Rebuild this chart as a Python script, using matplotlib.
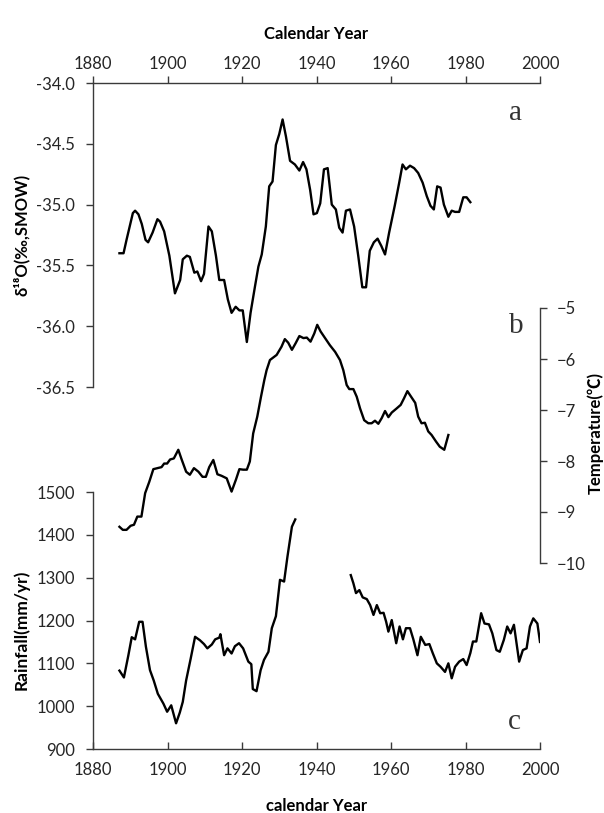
import numpy as np
import matplotlib
matplotlib.use("Agg")
import matplotlib.pyplot as plt

plt.rcParams['font.family'] = ['Lato', 'Noto Sans CJK SC', 'DejaVu Sans']

# ---------------- data ----------------
years_a = [1887.1, 1888.2, 1889.0, 1890.7, 1891.3, 1892.2, 1893.1, 1894.1, 1894.8, 1896.0,
           1897.3, 1898.0, 1899.1, 1900.5, 1902.0, 1903.4, 1904.1, 1905.2, 1906.0, 1907.2,
           1908.0, 1909.0, 1909.8, 1911.0, 1911.9, 1913.0, 1913.9, 1915.2, 1916.2, 1917.2,
           1918.3, 1919.3, 1920.2, 1921.3, 1922.3, 1923.5, 1924.4, 1925.3, 1926.4, 1927.3,
           1928.2, 1929.1, 1930.0, 1930.9, 1931.8, 1932.9, 1934.2, 1935.4, 1936.4, 1937.3,
           1938.3, 1939.2, 1940.1, 1941.0, 1942.0, 1943.0, 1944.1, 1945.2, 1946.1, 1947.0,
           1947.9, 1949.0, 1950.1, 1951.2, 1952.3, 1953.3, 1954.3, 1955.4, 1956.4, 1957.4,
           1958.4, 1959.5, 1961.0, 1962.2, 1963.1, 1964.0, 1965.1, 1966.2, 1967.3, 1968.5,
           1969.6, 1970.6, 1971.5, 1972.4, 1973.3, 1974.2, 1975.4, 1976.3, 1977.2, 1978.3,
           1979.4, 1980.3, 1981.3]
d18o = [-35.40, -35.40, -35.29, -35.07, -35.05, -35.08, -35.16, -35.29, -35.31, -35.23,
        -35.12, -35.14, -35.22, -35.42, -35.73, -35.62, -35.45, -35.42, -35.43, -35.56,
        -35.55, -35.63, -35.57, -35.18, -35.22, -35.42, -35.62, -35.62, -35.78, -35.89,
        -35.84, -35.87, -35.87, -36.13, -35.89, -35.67, -35.51, -35.41, -35.18, -34.85,
        -34.81, -34.51, -34.42, -34.30, -34.44, -34.64, -34.67, -34.72, -34.65, -34.71,
        -34.88, -35.08, -35.07, -34.99, -34.71, -34.70, -35.00, -35.04, -35.19, -35.23,
        -35.05, -35.04, -35.18, -35.42, -35.68, -35.68, -35.38, -35.31, -35.28, -35.34,
        -35.41, -35.23, -35.01, -34.82, -34.67, -34.71, -34.68, -34.70, -34.74, -34.82,
        -34.93, -35.01, -35.04, -34.85, -34.86, -35.00, -35.10, -35.05, -35.06, -35.06,
        -34.94, -34.94, -34.98]

years_b = [1887.1, 1888.0, 1889.0, 1890.1, 1891.0, 1891.9, 1893.0, 1894.0, 1895.1, 1896.2,
           1897.3, 1898.4, 1899.1, 1899.9, 1900.7, 1901.7, 1902.9, 1903.8, 1905.0, 1906.0,
           1907.1, 1908.3, 1909.4, 1910.3, 1911.2, 1912.3, 1913.4, 1914.5, 1915.9, 1917.2,
           1918.4, 1919.3, 1920.3, 1921.3, 1922.1, 1923.0, 1924.1, 1925.1, 1926.0, 1926.6,
           1927.5, 1929.3, 1930.6, 1931.5, 1932.4, 1933.4, 1934.4, 1935.4, 1936.5, 1937.4,
           1938.4, 1939.4, 1940.2, 1941.1, 1942.3, 1943.6, 1945.0, 1946.3, 1947.2, 1948.1,
           1948.8, 1949.9, 1950.8, 1951.7, 1952.8, 1953.9, 1954.8, 1955.7, 1956.6, 1957.5,
           1958.4, 1959.3, 1960.2, 1961.5, 1962.6, 1963.5, 1964.4, 1965.4, 1966.5, 1967.3,
           1968.2, 1969.1, 1970.0, 1970.9, 1972.1, 1973.1, 1974.3, 1975.4]
temperature = [-9.29, -9.35, -9.35, -9.27, -9.25, -9.09, -9.09, -8.63, -8.41, -8.16,
               -8.14, -8.12, -8.05, -8.05, -7.97, -7.95, -7.78, -7.97, -8.21, -8.27,
               -8.14, -8.21, -8.31, -8.31, -8.12, -7.98, -8.26, -8.29, -8.34, -8.60,
               -8.36, -8.16, -8.17, -8.17, -8.01, -7.46, -7.13, -6.74, -6.41, -6.22,
               -6.02, -5.92, -5.76, -5.61, -5.68, -5.82, -5.69, -5.55, -5.59, -5.58,
               -5.66, -5.50, -5.33, -5.46, -5.59, -5.73, -5.86, -6.02, -6.22, -6.51,
               -6.59, -6.59, -6.74, -6.97, -7.20, -7.26, -7.26, -7.21, -7.27, -7.16,
               -7.02, -7.14, -7.05, -6.97, -6.90, -6.77, -6.63, -6.74, -6.86, -7.13,
               -7.26, -7.25, -7.42, -7.49, -7.62, -7.72, -7.78, -7.49]

# rainfall: NaN marks the gap in the record
years_c = [1887.1, 1888.3, 1889.5, 1890.4, 1891.3, 1892.4, 1893.3, 1894.2, 1895.3, 1896.3,
           1897.4, 1898.9, 1899.9, 1901.0, 1902.3, 1903.3, 1904.1, 1905.0, 1906.2, 1907.4,
           1908.7, 1909.8, 1910.7, 1911.9, 1912.8, 1913.9, 1914.2, 1915.2, 1916.1, 1917.2,
           1918.1, 1919.2, 1920.3, 1921.7, 1922.5, 1922.9, 1923.9, 1925.0, 1925.9, 1927.1,
           1928.0, 1929.1, 1930.2, 1931.3, 1932.2, 1933.4, 1934.3,
           1942.0,
           1949.2, 1949.9, 1950.6, 1951.5, 1952.4, 1953.5, 1954.4, 1955.3, 1956.2, 1957.1,
           1958.0, 1958.7, 1959.3, 1960.2, 1961.4, 1962.3, 1963.2, 1964.0, 1965.1, 1966.0,
           1967.1, 1968.0, 1969.2, 1970.3, 1971.2, 1972.3, 1973.3, 1974.5, 1975.4, 1976.3,
           1977.2, 1978.3, 1979.4, 1980.3, 1981.3, 1982.0, 1982.9, 1984.2, 1985.1, 1986.3,
           1987.2, 1988.3, 1989.2, 1990.3, 1991.2, 1992.1, 1993.0, 1994.4, 1995.4, 1996.4,
           1997.3, 1998.2, 1999.3, 2000.0]
rainfall = [1083, 1067, 1119, 1161, 1156, 1197, 1197, 1139, 1084, 1060,
            1029, 1006, 987, 1002, 960, 985, 1010, 1060, 1110, 1162,
            1154, 1145, 1135, 1144, 1156, 1160, 1168, 1119, 1135, 1123,
            1140, 1147, 1135, 1104, 1098, 1040, 1035, 1084, 1108, 1127,
            1182, 1210, 1295, 1291, 1349, 1419, 1436,
            np.nan,
            1306, 1287, 1264, 1271, 1254, 1250, 1236, 1213, 1236, 1217,
            1218, 1197, 1174, 1201, 1147, 1186, 1156, 1182, 1182, 1156,
            1119, 1162, 1143, 1145, 1124, 1100, 1092, 1080, 1100, 1065,
            1092, 1104, 1110, 1096, 1124, 1151, 1151, 1217, 1193, 1191,
            1170, 1131, 1127, 1155, 1186, 1170, 1190, 1104, 1131, 1135,
            1186, 1205, 1193, 1150]

x_ticks = [1880, 1900, 1920, 1940, 1960, 1980, 2000]
d18o_ticks = [-34.0, -34.5, -35.0, -35.5, -36.0, -36.5]
temp_ticks = [-5, -6, -7, -8, -9, -10]
rain_ticks = [900, 1000, 1100, 1200, 1300, 1400, 1500]

# ---------------- layout ----------------
W, H = 604, 813
fig = plt.figure(figsize=(W / 100, H / 100), dpi=100)
x0, x1 = 93, 540
y_top, y_bot = 83, 749
rect = [x0 / W, 1 - y_bot / H, (x1 - x0) / W, (y_bot - y_top) / H]

spine_col = '#3a3a3a'
tick_col = '#262626'
tick_fs = 12
title_fs = 12
line_kw = dict(color='black', lw=1.7, solid_joinstyle='round')

ax_c = fig.add_axes(rect)
ax_a = fig.add_axes(rect, sharex=ax_c)
ax_b = fig.add_axes(rect, sharex=ax_c)
for ax in (ax_a, ax_b, ax_c):
    ax.set_facecolor('none')
    for s in ax.spines.values():
        s.set_visible(False)
        s.set_color(spine_col)
        s.set_linewidth(1.0)

ax_c.set_xlim(1880, 2000)

# --- rainfall (bottom-left) ---
ax_c.plot(years_c, rainfall, **line_kw)
ax_c.set_ylim(900, 900 + (y_bot - y_top) / 0.4283)
ax_c.spines['left'].set_visible(True)
ax_c.spines['left'].set_bounds(900, 1500)
ax_c.spines['bottom'].set_visible(True)
ax_c.set_yticks(rain_ticks)
ax_c.set_xticks(x_ticks)
ax_c.tick_params(axis='y', direction='out', length=5, width=1, color=spine_col,
                 labelsize=tick_fs, labelcolor=tick_col, pad=8)
ax_c.tick_params(axis='x', direction='in', length=5, width=1, color=spine_col,
                 labelsize=tick_fs, labelcolor=tick_col, pad=9)
ax_c.set_xlabel('calendar Year', fontsize=title_fs, fontweight='bold', labelpad=15)

# --- d18O (top-left) ---
ax_a.plot(years_a, d18o, **line_kw)
ax_a.set_ylim(-34.0 - (y_bot - y_top) / 121.6, -34.0)
ax_a.spines['left'].set_visible(True)
ax_a.spines['left'].set_bounds(-36.5, -34.0)
ax_a.spines['top'].set_visible(True)
ax_a.set_yticks(d18o_ticks)
ax_a.set_yticklabels([f'{v:.1f}' for v in d18o_ticks])
ax_a.xaxis.tick_top()
ax_a.xaxis.set_label_position('top')
ax_a.tick_params(axis='y', direction='out', length=5, width=1, color=spine_col,
                 labelsize=tick_fs, labelcolor=tick_col, pad=8)
ax_a.tick_params(axis='x', direction='out', length=5, width=1, color=spine_col,
                 labelsize=tick_fs, labelcolor=tick_col, pad=3, labelbottom=False,
                 bottom=False, top=True, labeltop=True)
ax_a.set_xlabel('Calendar Year', fontsize=title_fs, fontweight='bold', labelpad=12)

# --- temperature (right) ---
ax_b.plot(years_b, temperature, **line_kw)
ax_b.set_ylim(-5 - (y_bot - 308) / 51.0, -5 + (308 - y_top) / 51.0)
ax_b.yaxis.tick_right()
ax_b.spines['right'].set_visible(True)
ax_b.spines['right'].set_bounds(-10, -5)
ax_b.set_yticks(temp_ticks)
ax_b.tick_params(axis='y', direction='out', length=5, width=1, color=spine_col,
                 labelsize=tick_fs, labelcolor=tick_col, pad=7, left=False, labelleft=False)
ax_b.tick_params(axis='x', bottom=False, top=False, labelbottom=False, labeltop=False)

# --- axis titles (placed at figure pixel positions) ---
def fig_text(x, y, s, **kw):
    fig.text(x / W, 1 - y / H, s, **kw)

fig_text(21, 235, 'δ¹⁸O(‰,SMOW)', rotation=90, ha='center', va='center',
         fontsize=title_fs, fontweight='bold')
fig_text(21, 630, 'Rainfall(mm/yr)', rotation=90, ha='center', va='center',
         fontsize=title_fs + 0.5, fontweight='bold')
fig_text(595, 433, 'Temperature(℃)', rotation=90, ha='center', va='center',
         fontsize=title_fs, fontweight='bold')

serif = dict(family=['Liberation Serif', 'DejaVu Serif'], fontsize=21, color='#333333',
             ha='center', va='center')
fig_text(515, 113, 'a', **serif)
fig_text(516, 326, 'b', **serif)
fig_text(514, 722, 'c', **serif)

fig.savefig('out.png', dpi=100)
